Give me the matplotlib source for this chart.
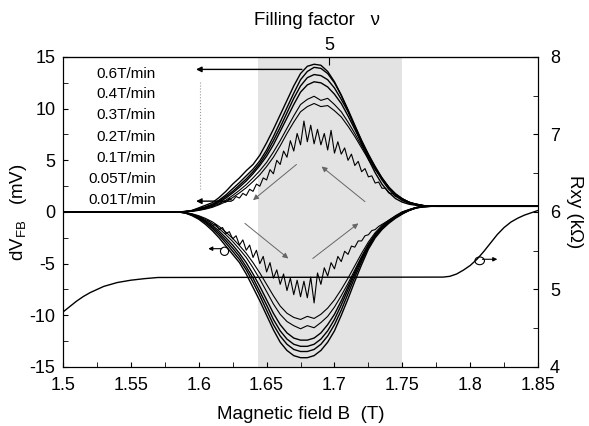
import numpy as np
import matplotlib
matplotlib.use('Agg')
import matplotlib.pyplot as plt
from matplotlib.patches import Ellipse

plt.rcParams['font.family'] = ['Liberation Sans', 'DejaVu Sans']
plt.rcParams['axes.unicode_minus'] = False

# field grid for the smooth sweeps (T)
B = [1.500, 1.585, 1.590, 1.595, 1.600, 1.605, 1.610, 1.615, 1.620, 1.625,
     1.630, 1.635, 1.640, 1.645, 1.650, 1.655, 1.660, 1.665, 1.670, 1.675,
     1.680, 1.685, 1.690, 1.695, 1.700, 1.705, 1.710, 1.715, 1.720, 1.725,
     1.730, 1.735, 1.740, 1.745, 1.750, 1.755, 1.760, 1.765, 1.770, 1.775,
     1.780, 1.850]

# sweep down (positive dV), 0.6 / 0.4 / 0.3 / 0.2 / 0.1 / 0.05 T/min
up_06 = [0, 0, 0.05, 0.15, 0.4, 0.65, 0.9, 1.4, 2.0, 2.7,
         3.3, 4.0, 4.6, 5.5, 6.7, 8.0, 9.4, 10.8, 12.2, 13.4,
         14.1, 14.3, 14.2, 13.6, 12.6, 11.3, 9.8, 8.2, 6.6, 5.1,
         3.8, 2.7, 1.9, 1.3, 0.95, 0.75, 0.65, 0.6, 0.55, 0.55, 0.55, 0.55]
up_04 = [0, 0, 0.05, 0.12, 0.3, 0.5, 0.75, 1.15, 1.65, 2.25,
         2.85, 3.5, 4.15, 4.95, 6.0, 7.3, 8.7, 10.1, 11.5, 12.8,
         13.6, 14.0, 13.9, 13.4, 12.5, 11.3, 9.9, 8.4, 6.9, 5.5,
         4.2, 3.1, 2.2, 1.55, 1.1, 0.85, 0.7, 0.62, 0.57, 0.55, 0.55, 0.55]
up_03 = [0, 0, 0.04, 0.1, 0.25, 0.45, 0.7, 1.05, 1.5, 2.0,
         2.6, 3.2, 3.9, 4.7, 5.7, 6.9, 8.2, 9.6, 11.0, 12.2,
         13.0, 13.3, 13.2, 12.8, 12.0, 10.9, 9.7, 8.3, 6.9, 5.6,
         4.4, 3.3, 2.4, 1.7, 1.2, 0.9, 0.72, 0.62, 0.57, 0.55, 0.55, 0.55]
up_02 = [0, 0, 0.03, 0.1, 0.22, 0.4, 0.62, 0.95, 1.35, 1.85,
         2.4, 3.0, 3.7, 4.5, 5.4, 6.5, 7.8, 9.1, 10.4, 11.6,
         12.3, 12.6, 12.5, 12.1, 11.4, 10.5, 9.3, 8.0, 6.7, 5.5,
         4.3, 3.3, 2.4, 1.75, 1.25, 0.95, 0.75, 0.63, 0.57, 0.55, 0.55, 0.55]
up_01 = [0, 0, 0.03, 0.08, 0.18, 0.33, 0.52, 0.8, 1.15, 1.6,
         2.1, 2.65, 3.3, 4.0, 4.8, 5.8, 6.9, 8.1, 9.3, 10.4,
         10.9, 11.2, 10.8, 11.0, 10.4, 9.7, 8.7, 7.6, 6.4, 5.3,
         4.2, 3.2, 2.4, 1.75, 1.3, 0.95, 0.75, 0.63, 0.57, 0.55, 0.55, 0.55]
up_005 = [0, 0, 0.02, 0.06, 0.15, 0.28, 0.45, 0.7, 1.0, 1.4,
          1.85, 2.35, 2.95, 3.6, 4.4, 5.3, 6.4, 7.6, 8.7, 9.7,
          10.2, 10.5, 10.2, 10.3, 9.8, 9.2, 8.3, 7.3, 6.2, 5.1,
          4.1, 3.2, 2.4, 1.75, 1.3, 0.95, 0.75, 0.63, 0.57, 0.55, 0.55, 0.55]

# sweep up (negative dV)
dn_06 = [0, 0, -0.1, -0.35, -0.7, -1.2, -1.8, -2.5, -3.3, -4.1,
         -4.9, -6.0, -7.3, -8.6, -10.0, -11.4, -12.6, -13.4, -13.9, -14.1,
         -14.1, -13.9, -13.4, -12.6, -11.5, -10.0, -8.4, -6.7, -5.1, -3.6,
         -2.5, -1.7, -1.1, -0.6, -0.2, 0.15, 0.4, 0.52, 0.55, 0.55, 0.55, 0.55]
dn_04 = [0, 0, -0.08, -0.3, -0.6, -1.05, -1.6, -2.25, -3.0, -3.8,
         -4.6, -5.6, -6.8, -8.1, -9.5, -10.9, -12.0, -12.8, -13.3, -13.5,
         -13.5, -13.3, -12.8, -12.0, -10.9, -9.5, -7.9, -6.3, -4.8, -3.4,
         -2.4, -1.6, -1.0, -0.55, -0.15, 0.15, 0.4, 0.52, 0.55, 0.55, 0.55, 0.55]
dn_03 = [0, 0, -0.07, -0.27, -0.55, -0.95, -1.45, -2.05, -2.75, -3.5,
         -4.3, -5.3, -6.4, -7.7, -9.0, -10.4, -11.5, -12.3, -12.8, -13.0,
         -13.0, -12.8, -12.3, -11.5, -10.4, -9.0, -7.5, -6.0, -4.6, -3.3,
         -2.3, -1.5, -0.95, -0.5, -0.1, 0.18, 0.42, 0.52, 0.55, 0.55, 0.55, 0.55]
dn_02 = [0, 0, -0.06, -0.24, -0.5, -0.85, -1.3, -1.85, -2.5, -3.2,
         -4.0, -4.9, -6.0, -7.2, -8.5, -9.8, -10.9, -11.7, -12.2, -12.4,
         -12.4, -12.2, -11.7, -10.9, -9.9, -8.6, -7.2, -5.8, -4.4, -3.2,
         -2.2, -1.45, -0.9, -0.45, -0.05, 0.2, 0.42, 0.52, 0.55, 0.55, 0.55, 0.55]
dn_01 = [0, 0, -0.05, -0.2, -0.42, -0.72, -1.1, -1.6, -2.2, -2.85,
         -3.6, -4.4, -5.4, -6.5, -7.7, -8.9, -9.9, -10.6, -11.0, -11.3,
         -11.0, -11.2, -10.7, -10.1, -9.2, -8.1, -6.9, -5.6, -4.3, -3.1,
         -2.1, -1.4, -0.85, -0.4, 0.0, 0.22, 0.43, 0.52, 0.55, 0.55, 0.55, 0.55]
dn_005 = [0, 0, -0.04, -0.17, -0.36, -0.62, -0.95, -1.4, -1.95, -2.55,
          -3.25, -4.0, -4.9, -5.9, -7.0, -8.1, -9.1, -9.8, -10.2, -10.4,
          -10.1, -10.3, -9.9, -9.3, -8.5, -7.5, -6.4, -5.2, -4.0, -2.9,
          -2.0, -1.3, -0.8, -0.35, 0.02, 0.25, 0.44, 0.52, 0.55, 0.55, 0.55, 0.55]

# 0.01 T/min, finer field grid because the trace is noisy
B_slow = np.concatenate([[1.50], np.arange(1.585, 1.7801, 0.0025), [1.85]])
up_001 = [0.0,
          0.0, 0.0, 0.05, 0.1, 0.15, 0.25, 0.3, 0.45, 0.4, 0.6,
          0.55, 0.8, 0.75, 1.05, 0.95, 1.3, 1.1, 1.5, 1.35, 1.8,
          1.6, 2.2, 2.0, 2.7, 2.5, 3.3, 3.1, 4.1, 3.7, 5.0,
          4.6, 5.9, 5.3, 6.9, 5.9, 7.6, 6.5, 8.8, 6.8, 8.4,
          6.6, 8.0, 6.5, 7.6, 6.0, 7.9, 5.7, 6.8, 5.6, 6.2,
          5.0, 5.6, 4.5, 4.9, 3.9, 4.2, 3.4, 3.5, 2.8, 2.9,
          2.3, 2.3, 1.85, 1.8, 1.5, 1.45, 1.2, 1.1, 0.95, 0.85,
          0.8, 0.72, 0.65, 0.6, 0.57, 0.55, 0.55, 0.55, 0.55,
          0.55]
dn_001 = [0.0,
          0.0, -0.02, -0.1, -0.15, -0.3, -0.35, -0.55, -0.6, -0.9, -0.85,
          -1.3, -1.2, -1.7, -1.5, -2.1, -1.9, -2.6, -2.3, -3.2, -2.7,
          -3.7, -3.2, -4.4, -3.7, -5.0, -4.3, -5.8, -4.9, -6.4, -5.6,
          -7.0, -6.0, -7.6, -6.4, -8.0, -6.6, -8.2, -6.7, -8.3, -6.3,
          -8.8, -5.9, -7.0, -5.4, -6.2, -4.9, -5.5, -4.3, -4.8, -3.8,
          -4.1, -3.3, -3.4, -2.8, -2.8, -2.3, -2.2, -1.8, -1.7, -1.4,
          -1.2, -1.0, -0.8, -0.6, -0.45, -0.3, -0.1, 0.0, 0.15, 0.25,
          0.35, 0.42, 0.47, 0.5, 0.52, 0.55, 0.55, 0.55, 0.55,
          0.55]

# Hall resistance (kOhm)
B_rxy = [1.500, 1.505, 1.510, 1.515, 1.520, 1.525, 1.530, 1.540, 1.550, 1.560,
         1.570, 1.780, 1.785, 1.790, 1.795, 1.800, 1.805, 1.810, 1.815, 1.820,
         1.825, 1.830, 1.835, 1.840, 1.845, 1.850]
rxy = [4.71, 4.78, 4.85, 4.91, 4.96, 5.00, 5.04, 5.09, 5.12, 5.14,
       5.155, 5.16, 5.17, 5.20, 5.25, 5.31, 5.39, 5.49, 5.60, 5.71,
       5.80, 5.87, 5.92, 5.96, 5.99, 6.02]

rates = ['0.6T/min', '0.4T/min', '0.3T/min', '0.2T/min',
         '0.1T/min', '0.05T/min', '0.01T/min']
rate_y = [13.4, 11.4, 9.35, 7.3, 5.25, 3.2, 1.2]

fig = plt.figure(figsize=(5.89, 4.26), dpi=100)
ax = fig.add_axes([0.107, 0.1385, 0.8065, 0.7277])

ax.axvspan(1.644, 1.750, color='#e3e3e3', lw=0, zorder=0)

for curve in [up_06, up_04, up_03, up_02, dn_06, dn_04, dn_03, dn_02]:
    ax.plot(B, curve, color='black', lw=1.0)
for curve in [up_01, up_005, dn_01, dn_005]:
    ax.plot(B, curve, color='black', lw=0.8)
ax.plot(B_slow, up_001, color='black', lw=0.8)
ax.plot(B_slow, dn_001, color='black', lw=0.8)

ax.set_xlim(1.5, 1.85)
ax.set_ylim(-15, 15)
ax.set_xticks([1.5, 1.55, 1.6, 1.65, 1.7, 1.75, 1.8, 1.85],
              ['1.5', '1.55', '1.6', '1.65', '1.7', '1.75', '1.8', '1.85'])
ax.set_xticks(np.arange(1.525, 1.85, 0.05), minor=True)
ax.set_yticks([-15, -10, -5, 0, 5, 10, 15])
ax.set_yticks(np.arange(-12.5, 15, 5), minor=True)
ax.tick_params(which='both', direction='in', length=3.5, labelsize=13)
ax.tick_params(axis='x', pad=7)
ax.tick_params(axis='y', pad=5.5)
ax.set_xlabel('Magnetic field B  (T)', fontsize=13.5, labelpad=9)
ax.set_ylabel(r'$\mathregular{dV_{FB}}$   (mV)', fontsize=13.5, labelpad=0)

# rate labels and pointers
for txt, y in zip(rates, rate_y):
    ax.text(1.5683, y, txt, ha='right', va='center', fontsize=11)
arr = dict(arrowstyle='-|>', color='black', lw=1.0, mutation_scale=8,
           shrinkA=0, shrinkB=0)
ax.annotate('', xy=(1.598, 13.8), xytext=(1.676, 13.8), arrowprops=arr)
ax.annotate('', xy=(1.598, 1.05), xytext=(1.624, 1.05), arrowprops=arr)
ax.plot([1.601, 1.601], [12.6, 2.2], color='0.6', lw=0.8, ls=':')

# sweep direction arrows
grey = dict(arrowstyle='-|>', color='0.4', lw=0.7, mutation_scale=8,
            shrinkA=0, shrinkB=0)
ax.annotate('', xy=(1.640, 1.15), xytext=(1.672, 4.6), arrowprops=grey)
ax.annotate('', xy=(1.6905, 4.4), xytext=(1.7225, 1.0), arrowprops=grey)
ax.annotate('', xy=(1.666, -4.5), xytext=(1.634, -1.1), arrowprops=grey)
ax.annotate('', xy=(1.7176, -1.1), xytext=(1.684, -4.5), arrowprops=grey)

# axis markers (left axis for dV)
ax.add_patch(Ellipse((1.619, -3.8), 0.006, 0.8, fill=False, lw=0.8,
                     color='black'))
ax.annotate('', xy=(1.607, -3.55), xytext=(1.617, -3.55),
            arrowprops=dict(arrowstyle='-|>', color='black', lw=0.8,
                            mutation_scale=6, shrinkA=0, shrinkB=0))

# top axis: filling factor
top = ax.secondary_xaxis('top')
top.set_xticks([1.696], ['5'])
top.tick_params(direction='in', length=6, labelsize=13, pad=2)
fig.text(0.5377, 0.952, 'Filling factor   ν', fontsize=13.5,
         ha='center', va='center')

# right axis: Hall resistance
ax2 = ax.twinx()
ax2.plot(B_rxy, rxy, color='black', lw=1.0)
ax2.set_ylim(4, 8)
ax2.set_yticks([4, 5, 6, 7, 8])
ax2.set_yticks([4.5, 5.5, 6.5, 7.5], minor=True)
ax2.tick_params(which='both', direction='in', length=3.5, labelsize=13,
                pad=8.5)
ax2.set_ylabel('Rxy (kΩ)', fontsize=13.5, rotation=270, va='bottom',
               labelpad=4)
ax2.add_patch(Ellipse((1.807, 5.37), 0.007, 0.1, fill=False, lw=0.8,
                      color='black'))
ax2.annotate('', xy=(1.820, 5.39), xytext=(1.809, 5.39),
             arrowprops=dict(arrowstyle='-|>', color='black', lw=0.8,
                             mutation_scale=6, shrinkA=0, shrinkB=0))

fig.savefig('out.png', dpi=100)
